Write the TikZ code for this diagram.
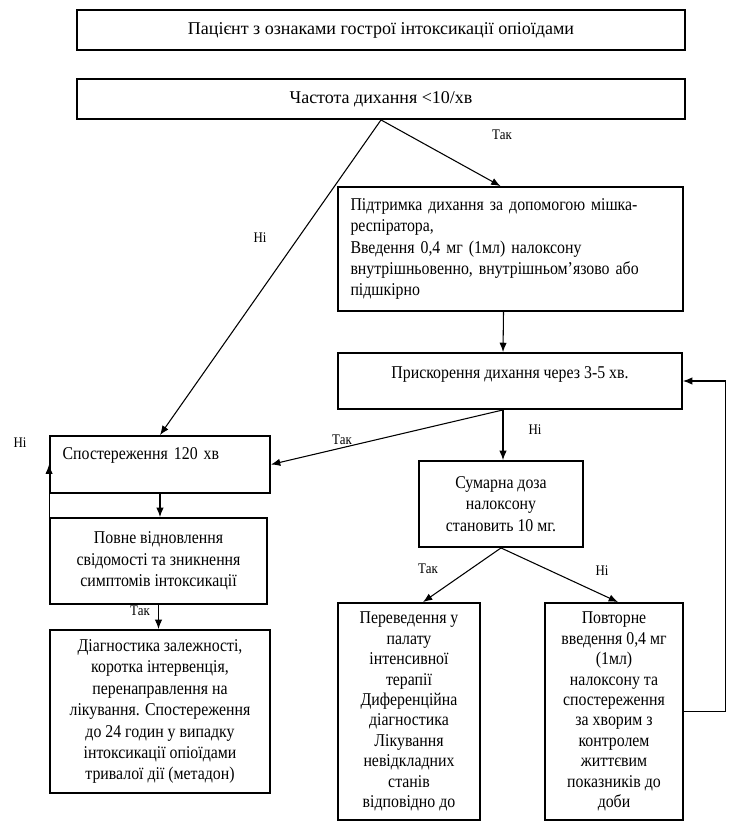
\documentclass[tikz,border=0pt]{standalone}
\usepackage{fontspec}
\setmainfont{Liberation Serif}[FakeStretch=0.88]
\newfontfamily\titlefont{Liberation Serif}
\usetikzlibrary{arrows.meta,positioning,calc}
\tikzset{
    flowbox/.style={draw, line width=1.4pt, align=center, inner sep=2pt,
        font=\fontsize{13.5}{16.1}\selectfont},
    titlebox/.style={flowbox, minimum width=456pt, minimum height=30pt,
        font=\titlefont\fontsize{13.5}{16.1}\selectfont},
    tallbox/.style={flowbox, font=\fontsize{13.5}{15.3}\selectfont},
    flowarrow/.style={-{Latex[length=7pt,width=5.5pt]}, line width=0.8pt},
    flowlabel/.style={font=\fontsize{11}{12}\selectfont, inner sep=0pt}
}

\begin{document}
\begin{tikzpicture}[x=0.75pt, y=-0.75pt]
\useasboundingbox (0,0) rectangle (742,830);
\node[titlebox] (patient) at (381,30)
    {Пацієнт з ознаками гострої інтоксикації опіоїдами};
\node[titlebox] (rate) at (381,99)
    {Частота дихання <10/хв};
\node[flowbox, align=left, inner xsep=9pt, minimum width=258.75pt, minimum height=93pt, text width=240pt] (resp) at (510.5,249)
    {Підтримка дихання за допомогою мішка-\\респіратора,\\Введення 0,4 мг (1мл) налоксону\\внутрішньовенно, внутрішньом’язово або\\підшкірно};
\node[flowbox, minimum width=258pt, minimum height=42pt, text height=10pt, text depth=14pt] (accel) at (510,381)
    {Прискорення дихання через 3-5 хв.};
\node[flowbox, align=left, inner xsep=9pt, minimum width=165pt, minimum height=42.75pt, text width=146pt, text height=10pt, text depth=18pt] (obs) at (160,464.5)
    {Спостереження 120 хв};
\node[flowbox, minimum width=162.75pt, minimum height=64.5pt] (full) at (158.5,561)
    {Повне відновлення\\свідомості та зникнення\\симптомів інтоксикації};
\node[flowbox, minimum width=165pt, minimum height=122.25pt] (diag) at (160,711.5)
    {Діагностика залежності,\\коротка інтервенція,\\перенаправлення на\\лікування. Спостереження\\до 24 годин у випадку\\інтоксикації опіоїдами\\тривалої дії (метадон)};
\node[flowbox, minimum width=123pt, minimum height=64.5pt] (sum) at (501,504)
    {Сумарна доза\\налоксону\\становить 10 мг.};
\node[tallbox, minimum width=106.5pt, minimum height=162.75pt] (trans) at (409,711.5)
    {Переведення у\\палату\\інтенсивної\\терапії\\Диференційна\\діагностика\\Лікування\\невідкладних\\станів\\відповідно до};
\node[tallbox, minimum width=103.5pt, minimum height=162.75pt] (rep) at (614,711.5)
    {Повторне\\введення 0,4 мг\\(1мл)\\налоксону та\\спостереження\\за хворим з\\контролем\\життєвим\\показників до\\доби};
% labels
\node[flowlabel] (yesresp) at (502,135) {Так};
\node[flowlabel] (nobreath) at (260,238) {Ні};
\node[flowlabel] (nosum) at (535,430) {Ні};
\node[flowlabel] (yesobs) at (342,440) {Так};
\node[flowlabel] (noloop) at (20,443) {Ні};
\node[flowlabel] (yesdiag) at (140,611) {Так};
\node[flowlabel] (yestrans) at (428,569) {Так};
\node[flowlabel] (norep) at (602,571) {Ні};
% connectors
\draw[flowarrow] (rate.south) -- ($(resp.north)+(-10,0)$);
\draw[flowarrow] (rate.south) -- (obs.north);
\draw[flowarrow] ($(resp.south)+(-7,0)$) -- ($(accel.north)+(-7,0)$);
\draw[flowarrow] ($(accel.south)+(-7,0)$) -- ($(sum.north)+(2,0)$);
\draw[flowarrow] ($(accel.south)+(-7,0)$) -- (obs.east);
\draw[flowarrow] (obs.south) -- (obs.south |- full.north);
\draw[flowarrow] (full.west) -- (obs.west);
\draw[flowarrow] (full.south) -- (full.south |- diag.north);
\draw[flowarrow] (sum.south) -- ($(trans.north)+(14,0)$);
\draw[flowarrow] (sum.south) -- ($(rep.north)+(4,0)$);
\draw[flowarrow] (rep.east) -- ++(42,0) |- (accel.east);
\end{tikzpicture}
\end{document}
